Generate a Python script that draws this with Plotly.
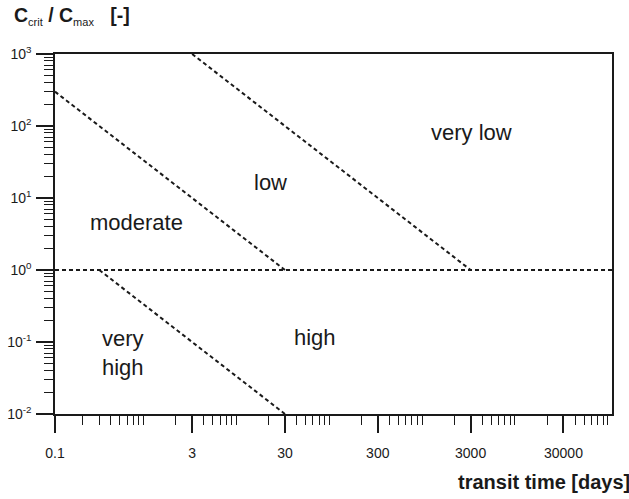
import math
import plotly.graph_objects as go

# Boundary lines (transit time [days], Ccrit/Cmax [-])
horiz_x = [0.1, 100000]
horiz_y = [1, 1]
line_a_x = [0.1, 30]      # moderate / low boundary
line_a_y = [300, 1]
line_b_x = [3, 3000]      # low / very low boundary
line_b_y = [1000, 1]
line_c_x = [0.3, 30]      # very high / high boundary
line_c_y = [1, 0.01]

region_labels = ["very low", "low", "moderate", "high", "very<br>high"]
region_x = [3100, 21, 0.75, 63, 0.54]
region_y = [80, 16.5, 4.5, 0.115, 0.07]

x_major = [0.1, 3, 30, 300, 3000, 30000]
x_major_text = ["0.1", "3", "30", "300", "3000", "30000"]
x_minor = ([0.2, 0.3, 0.4, 0.5, 0.6, 0.7, 0.8, 0.9, 2]
           + [m * 10 ** k for k in range(0, 5) for m in (4, 5, 6, 7, 8, 9)]
           + [2 * 10 ** k for k in range(1, 5)])
y_major = [0.01, 0.1, 1, 10, 100, 1000]
y_major_text = ["10<sup>-2</sup>", "10<sup>-1</sup>", "10<sup>0</sup>",
                "10<sup>1</sup>", "10<sup>2</sup>", "10<sup>3</sup>"]
y_minor = [m * 10 ** k for k in range(-2, 3) for m in range(2, 10)]

ink = "#1a1a1a"
FONT = "Liberation Sans, Arial"
fig = go.Figure()
for xs, ys in [(horiz_x, horiz_y), (line_a_x, line_a_y), (line_b_x, line_b_y), (line_c_x, line_c_y)]:
    fig.add_trace(go.Scatter(x=xs, y=ys, mode="lines",
                             line=dict(color=ink, width=2, dash="4px,3px"),
                             showlegend=False, hoverinfo="skip"))

for t, x, y in zip(region_labels, region_x, region_y):
    fig.add_annotation(x=math.log10(x), y=math.log10(y),
                       text=t, showarrow=False,
                       font=dict(family=FONT, size=22, color=ink))

sub = '<sub><span style="font-size:11px;font-weight:normal">{}</span></sub>'
fig.add_annotation(xref="paper", yref="paper", x=-0.077, y=1.105, xanchor="left", yanchor="middle",
                   text="<b>C</b>" + sub.format("crit") + "<b> / C</b>" + sub.format("max")
                        + "<b>   [-]</b>",
                   showarrow=False, font=dict(family=FONT, size=19.5, color=ink))
fig.add_annotation(xref="paper", yref="paper", x=1.036, y=-0.19, xanchor="right", yanchor="middle",
                   text="<b>transit time [days]</b>",
                   showarrow=False, font=dict(family=FONT, size=20, color=ink))

axis_common = dict(showgrid=False, zeroline=False, showline=True, linecolor=ink, linewidth=1.5,
                   mirror=True, ticks="outside", ticklen=17, tickwidth=1.5, tickcolor=ink,
                   automargin=False,
                   tickfont=dict(family=FONT, size=14, color=ink))
fig.update_xaxes(type="log", range=[-1, 5], tickmode="array", tickvals=x_major, ticktext=x_major_text,
                 minor=dict(tickmode="array", tickvals=x_minor, ticks="outside", ticklen=9,
                            tickwidth=1.2, tickcolor=ink, showgrid=False),
                 ticklabelstandoff=8, **axis_common)
fig.update_yaxes(type="log", range=[-2, 3], tickmode="array", tickvals=y_major, ticktext=y_major_text,
                 minor=dict(tickmode="array", tickvals=y_minor, ticks="outside", ticklen=9,
                            tickwidth=1.2, tickcolor=ink, showgrid=False),
                 ticklabelstandoff=2, **axis_common)
fig.update_layout(width=629, height=499, margin=dict(l=55, r=17, t=54, b=85),
                  plot_bgcolor="white", paper_bgcolor="white",
                  font=dict(family=FONT, color=ink))
fig.write_html("out.html")
